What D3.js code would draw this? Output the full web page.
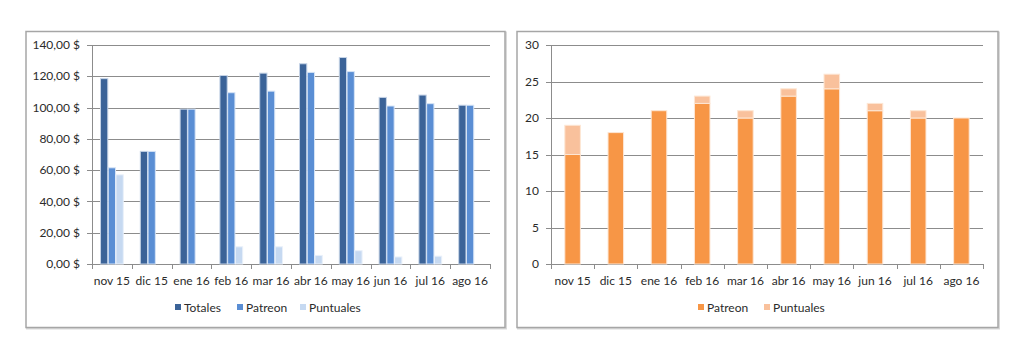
<!DOCTYPE html>
<html lang="es">
<head>
<meta charset="utf-8">
<title>Ingresos Patreon</title>
<script src="https://d3js.org/d3.v7.min.js"></script>
<style>
  body { margin: 0; background: #fff; }
  svg text { font-family: Lato, "Open Sans", sans-serif; fill: #2b2b2b; }
</style>
</head>
<body>
<div id="main"></div>
<script>

var months = ["nov 15", "dic 15", "ene 16", "feb 16", "mar 16", "abr 16", "may 16", "jun 16", "jul 16", "ago 16"];

// dinero (izquierda)
var totales   = [118.5, 72, 99, 120.5, 122, 128, 132, 106.5, 108, 101.5];
var patreonEu = [61.5, 72, 99, 109.5, 110.5, 122.5, 123, 101, 102.5, 101.5];
var puntualEu = [57, 0, 0, 11, 11, 5.5, 8.5, 4.5, 5, 0];
var moneyTicks = [0, 20, 40, 60, 80, 100, 120, 140];

// mecenas (derecha)
var patreonN = [15, 18, 21, 22, 20, 23, 24, 21, 20, 20];
var puntualN = [4, 0, 0, 1, 1, 1, 2, 1, 1, 0];
var countTicks = [0, 5, 10, 15, 20, 25, 30];

var width = 1024, height = 362;

var svg = d3.select("#main").append("svg")
    .attr("width", width)
    .attr("height", height);

var gridColor = "#8c8c8c";

function frame(x0, x1) {
  svg.append("rect")
    .attr("x", x0 + 1).attr("y", 32.5)
    .attr("width", x1 - x0).attr("height", 296)
    .attr("fill", "none").attr("stroke", "#d9d9d9").attr("stroke-width", 2);
  svg.append("rect")
    .attr("x", x0).attr("y", 31.5)
    .attr("width", x1 - x0).attr("height", 296)
    .attr("fill", "#fff").attr("stroke", "#a6a6a6").attr("stroke-width", 1.5);
}

function axes(x, y, ticks, fmt) {
  var g = svg.append("g");
  var x0 = x.range()[0], x1 = x.range()[1];

  g.selectAll(".grid").data(ticks).enter().append("line")
    .attr("x1", x0 - 5).attr("x2", x1)
    .attr("y1", function(d) { return Math.round(y(d)) + 0.5; })
    .attr("y2", function(d) { return Math.round(y(d)) + 0.5; })
    .attr("stroke", gridColor);

  g.append("line")
    .attr("x1", x0 + 0.5).attr("x2", x0 + 0.5)
    .attr("y1", y.range()[1]).attr("y2", y.range()[0])
    .attr("stroke", gridColor);

  g.selectAll(".ylab").data(ticks).enter().append("text")
    .attr("x", x0 - 12)
    .attr("y", function(d) { return y(d); })
    .attr("dy", "0.35em")
    .attr("text-anchor", "end")
    .attr("font-size", 12)
    .text(fmt);

  var bounds = months.map(function(m) { return x(m); }).concat([x1]);
  g.selectAll(".xtick").data(bounds).enter().append("line")
    .attr("x1", function(d) { return Math.round(d) + 0.5; })
    .attr("x2", function(d) { return Math.round(d) + 0.5; })
    .attr("y1", y(0)).attr("y2", y(0) + 5)
    .attr("stroke", gridColor);

  g.selectAll(".xlab").data(months).enter().append("text")
    .attr("x", function(d) { return x(d) + x.bandwidth() / 2; })
    .attr("y", y(0) + 21)
    .attr("text-anchor", "middle")
    .attr("font-size", 12)
    .text(function(d) { return d; });
}

function legend(items, yPos) {
  var g = svg.append("g");
  items.forEach(function(it) {
    g.append("rect")
      .attr("x", it.x).attr("y", yPos - 4)
      .attr("width", 6).attr("height", 6)
      .attr("fill", it.color);
    g.append("text")
      .attr("x", it.x + 9).attr("y", yPos)
      .attr("dy", "0.35em")
      .attr("font-size", 12)
      .text(it.name);
  });
}

// ---------- panel izquierdo ----------
frame(26, 505);

var x1 = d3.scaleBand().domain(months).range([92, 490]).paddingInner(0).paddingOuter(0);
var y1 = d3.scaleLinear().domain([0, 140]).range([264, 45]);

axes(x1, y1, moneyTicks, function(d) { return d3.format(",.2f")(d).replace(".", ",") + " $"; });

var series1 = [
  { name: "Totales",   values: totales,   color: "#3b6398", edge: "#c5d3e6" },
  { name: "Patreon",   values: patreonEu, color: "#5a8ed4", edge: "#d6e4f6" },
  { name: "Puntuales", values: puntualEu, color: "#c6d9f1", edge: "#e9f0fa" }
];

var inner = d3.scaleBand()
    .domain(series1.map(function(s) { return s.name; }))
    .range([0, x1.bandwidth()])
    .paddingOuter(1.1)
    .paddingInner(0.06);

series1.forEach(function(s) {
  svg.append("g").selectAll("rect")
    .data(s.values).enter().append("rect")
    .attr("x", function(d, i) { return x1(months[i]) + inner(s.name); })
    .attr("width", inner.bandwidth())
    .attr("y", function(d) { return y1(d); })
    .attr("height", function(d) { return y1(0) - y1(d); })
    .attr("fill", s.color)
    .attr("stroke", s.edge)
    .attr("stroke-width", 1);
});

legend([
  { name: "Totales",   color: "#3b6398", x: 175 },
  { name: "Patreon",   color: "#5a8ed4", x: 237 },
  { name: "Puntuales", color: "#c6d9f1", x: 300 }
], 308);

// ---------- panel derecho ----------
frame(517, 998);

var x2 = d3.scaleBand().domain(months).range([551, 983]);
var y2 = d3.scaleLinear().domain([0, 30]).range([264, 45]);

axes(x2, y2, countTicks, function(d) { return d; });

var stacked = d3.stack().keys(["Patreon", "Puntuales"])(
  months.map(function(m, i) { return { Patreon: patreonN[i], Puntuales: puntualN[i] }; })
);
var colors2 = { Patreon: "#f79646", Puntuales: "#f9c19c" };
var barW = x2.bandwidth() * 0.36;

stacked.forEach(function(layer) {
  svg.append("g").selectAll("rect")
    .data(layer).enter().append("rect")
    .attr("x", function(d, i) { return x2(months[i]) + (x2.bandwidth() - barW) / 2; })
    .attr("width", barW)
    .attr("y", function(d) { return y2(d[1]); })
    .attr("height", function(d) { return y2(d[0]) - y2(d[1]); })
    .attr("fill", colors2[layer.key])
    .attr("stroke", "#fde6d4")
    .attr("stroke-width", 1);
});

legend([
  { name: "Patreon",   color: "#f79646", x: 698 },
  { name: "Puntuales", color: "#f9c19c", x: 764 }
], 308);

</script>
</body>
</html>
